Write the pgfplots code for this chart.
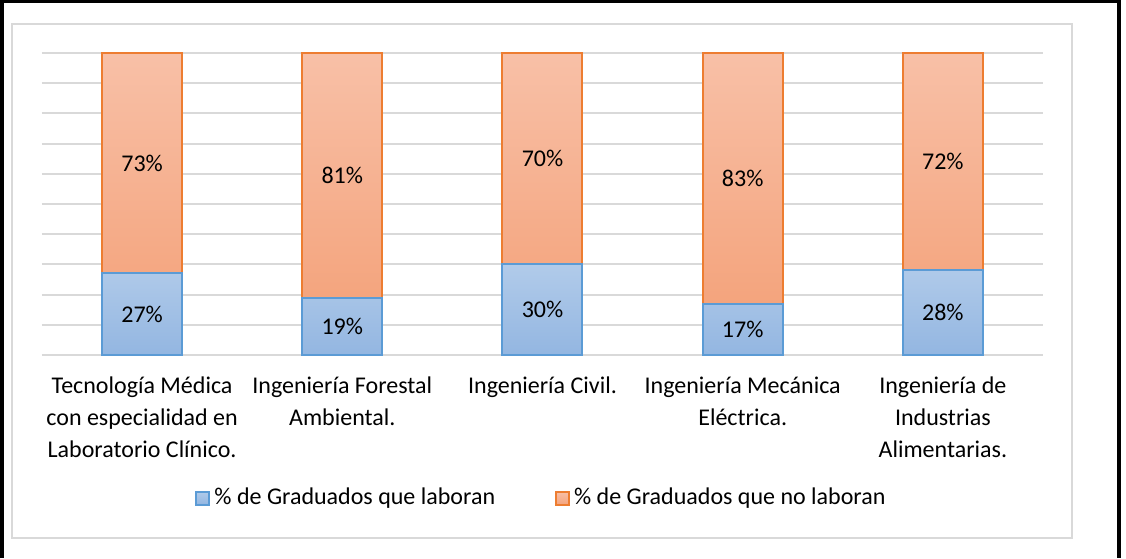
\documentclass[border=0pt]{standalone}
\usepackage{fontspec}
\setmainfont{Carlito}
\usepackage{pgfplots}
\pgfplotsset{compat=1.18}

\definecolor{blueedge}{HTML}{5B9BD5}
\definecolor{bluetop}{HTML}{B1CBEA}
\definecolor{bluebot}{HTML}{93B6E1}
\definecolor{orgedge}{HTML}{ED7D31}
\definecolor{orgtop}{HTML}{F8C0A7}
\definecolor{orgbot}{HTML}{F4A47D}
\definecolor{gridc}{HTML}{D9D9D9}

\begin{document}
\begin{tikzpicture}[x=0.5pt,y=-0.5pt]
\useasboundingbox (0,0) rectangle (1126,558);
% outer black frame (left, top, right only)
\draw[black, line width=2pt] (2,558) -- (2,1) -- (1118.5,1) -- (1118.5,558);
% chart area frame
\draw[gridc, line width=1pt] (12,24) rectangle (1072,538);

\begin{axis}[
    at={(21pt,-177.5pt)}, anchor=south west,
    scale only axis, width=500.5pt, height=151pt,
    font=\fontsize{12}{16}\selectfont,
    /pgf/number format/assume math mode=true,
    ybar stacked, bar width=40pt,
    xmin=-0.5, xmax=4.5, ymin=0, ymax=100,
    xtick={0,1,2,3,4},
    xticklabels={
        {Tecnología Médica\\con especialidad en\\Laboratorio Clínico.},
        {Ingeniería Forestal\\Ambiental.},
        {Ingeniería Civil.},
        {Ingeniería Mecánica\\Eléctrica.},
        {Ingeniería de\\Industrias\\Alimentarias.}},
    xticklabel style={align=center, anchor=north, yshift=-7.5pt},
    ytick={0,10,...,100}, yticklabels={},
    ymajorgrids, major grid style={gridc, line width=1pt},
    axis line style={draw=none}, tick style={draw=none},
    clip=false,
    visualization depends on={rawy \as \rawy},
    nodes near coords={\pgfmathprintnumber{\rawy}\%},
    every node near coord/.append style={anchor=center, font=\fontsize{12}{16}\selectfont, text=black},
    legend columns=2,
    legend style={draw=none, fill=none, at={(0.5,-0.4735)}, anchor=center,
        font=\fontsize{12}{16}\selectfont,
        /tikz/every even column/.append style={column sep=28pt}},
    legend image code/.code={\draw[#1] (0pt,-3.25pt) rectangle (6.5pt,3.25pt);},
]
\addplot[draw=blueedge, line width=1pt, top color=bluetop, bottom color=bluebot]
    coordinates {(0,27) (1,19) (2,30) (3,17) (4,28)};
\addlegendentry{\% de Graduados que laboran}
\addplot[draw=orgedge, line width=1pt, top color=orgtop, bottom color=orgbot]
    coordinates {(0,73) (1,81) (2,70) (3,83) (4,72)};
\addlegendentry{\% de Graduados que no laboran}
\end{axis}
\end{tikzpicture}
\end{document}
